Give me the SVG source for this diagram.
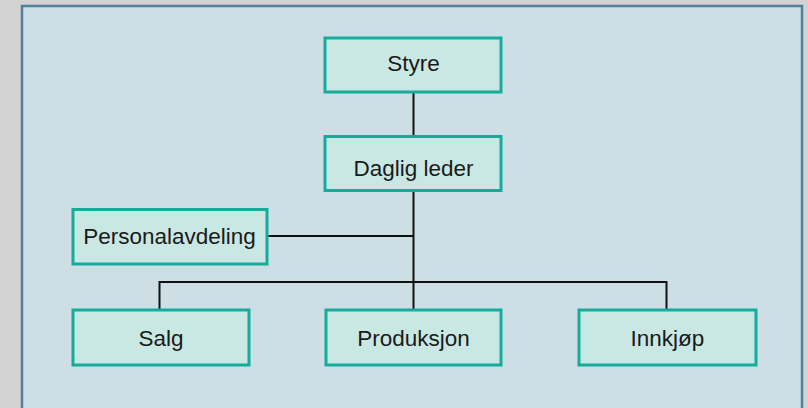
<svg xmlns="http://www.w3.org/2000/svg" width="808" height="408" viewBox="0 0 808 408">
<style>
.box{fill:#c9e8e4;stroke:#17ab9c;stroke-width:3}
.lbl{font-family:"Liberation Sans",Arial,sans-serif;font-size:22.5px;fill:#1a1a1a;text-anchor:middle}
.con{stroke:#111;stroke-width:2;fill:none}
</style>
<rect x="0" y="0" width="808" height="408" fill="#d3d3d3"/>
<rect x="22" y="6" width="780" height="412" fill="#cddee5" stroke="#4f7f99" stroke-width="2.5"/>
<g id="connectors">
<line class="con" x1="413.5" y1="92" x2="413.5" y2="136"/>
<line class="con" x1="413.5" y1="191" x2="413.5" y2="310"/>
<line class="con" x1="267" y1="236" x2="413.5" y2="236"/>
<polyline class="con" points="159.5,310 159.5,282 666.5,282 666.5,310"/>
</g>
<g id="styre"><rect class="box" x="325" y="38" width="176" height="54"/><text class="lbl" x="413.5" y="71">Styre</text></g>
<g id="daglig"><rect class="box" x="325" y="136.5" width="176" height="54"/><text class="lbl" x="413.5" y="175.5">Daglig leder</text></g>
<g id="personal"><rect class="box" x="73" y="209.5" width="194" height="54.5"/><text class="lbl" x="169.5" y="244">Personalavdeling</text></g>
<g id="salg"><rect class="box" x="73" y="310" width="176" height="55"/><text class="lbl" x="161" y="345.5">Salg</text></g>
<g id="produksjon"><rect class="box" x="326" y="310" width="175" height="55"/><text class="lbl" x="413.5" y="345.5">Produksjon</text></g>
<g id="innkjop"><rect class="box" x="579" y="310" width="177" height="55"/><text class="lbl" x="667.5" y="345.5">Innkjøp</text></g>
</svg>
